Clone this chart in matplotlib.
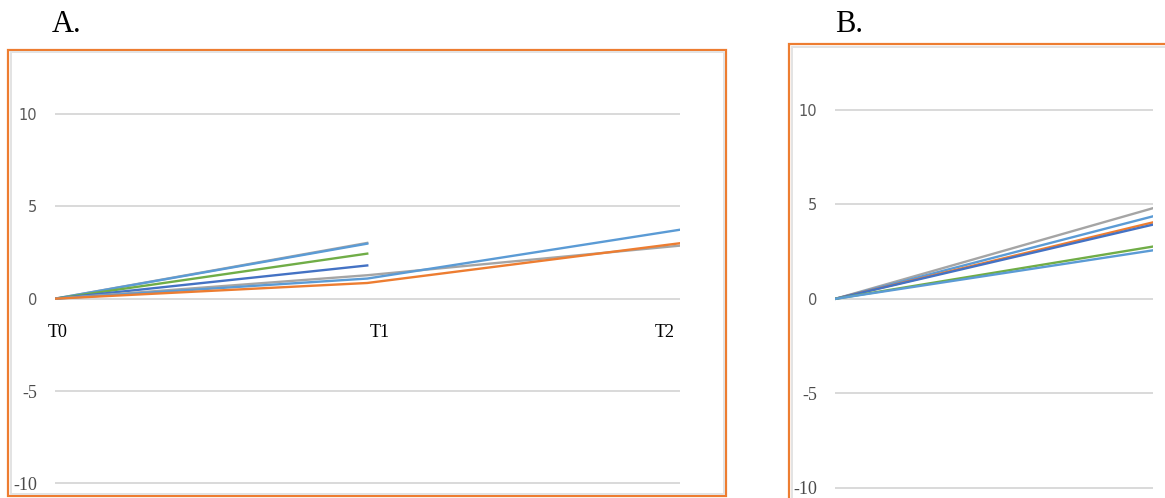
import matplotlib
matplotlib.use("Agg")
import matplotlib.pyplot as plt
from matplotlib.patches import Rectangle
from matplotlib.transforms import offset_copy

W, H = 1165, 498

# panel A data (None = no value at that time point)
timesA = ["T0", "T1", "T2"]
shortGray = [0, 3.02, None]
shortBlue = [0, 2.98, None]
shortGreen = [0, 2.44, None]
shortDarkBlue = [0, 1.80, None]
longGray = [0, 1.27, 2.87]
longBlue = [0, 1.09, 3.73]
longOrange = [0, 0.85, 3.0]

# panel B data
timesB = ["T0", "T1"]
bGray = [0, 4.80]
bBlue = [0, 4.37]
bOrange = [0, 4.05]
bDarkBlue = [0, 3.93]
bGreen = [0, 2.77]
bBlue2 = [0, 2.57]

yTicks = [-10, -5, 0, 5, 10]
yTickLabels = ["-10", "-5", "0", "5", "10"]

BLUE = "#5B9BD5"
DARKBLUE = "#4472C4"
ORANGE = "#ED7D31"
GRAY = "#A5A5A5"
GREEN = "#70AD47"
GRID = "#D9D9D9"


def px(left, top, right, bottom):
    return [left / W, 1 - bottom / H, (right - left) / W, (bottom - top) / H]


def clean(v):
    return [float("nan") if a is None else a for a in v]


def styleAxis(ax, pad):
    ax.set_ylim(-10.5, 13)
    ax.set_yticks(yTicks)
    ax.set_yticklabels(yTickLabels)
    for s in ax.spines.values():
        s.set_visible(False)
    ax.tick_params(axis="y", length=0, pad=pad)
    ax.tick_params(axis="x", length=0, labelbottom=False)
    ax.grid(axis="y", color=GRID, linewidth=1.4)
    ax.set_axisbelow(True)
    ax.patch.set_alpha(0)
    for lbl in ax.get_yticklabels():
        if lbl.get_text().startswith("-"):
            lbl.set_fontfamily("Liberation Serif")
            lbl.set_fontsize(13)
            lbl.set_color("#4a4a4a")
        else:
            lbl.set_fontfamily("DejaVu Sans")
            lbl.set_fontsize(10.5)
            lbl.set_color("#595959")


fig = plt.figure(figsize=(W / 100, H / 100), dpi=100)
fig.patch.set_facecolor("white")

# frames (orange outer, light grey inner)
fig.add_artist(Rectangle((8 / W, 1 - 496 / H), 718 / W, 446 / H, transform=fig.transFigure,
                         fill=False, edgecolor=ORANGE, linewidth=1.6))
fig.add_artist(Rectangle((10.5 / W, 1 - 493.5 / H), 713 / W, 441 / H, transform=fig.transFigure,
                         fill=False, edgecolor="#E3E3E3", linewidth=1.4))
fig.add_artist(Rectangle((789 / W, 1 - 510 / H), 400 / W, 466 / H, transform=fig.transFigure,
                         fill=False, edgecolor=ORANGE, linewidth=1.6))
fig.add_artist(Rectangle((791.5 / W, 1 - 510 / H), 400 / W, 463.5 / H, transform=fig.transFigure,
                         fill=False, edgecolor="#E3E3E3", linewidth=1.4))

# panel A
axA = fig.add_axes(px(55, 58.6, 679.5, 492.6))
x = range(len(timesA))
lw = 1.7
axA.plot(x, clean(shortGray), color=GRAY, lw=lw)
axA.plot(x, clean(shortBlue), color=BLUE, lw=lw)
axA.plot(x, clean(shortGreen), color=GREEN, lw=lw)
axA.plot(x, clean(shortDarkBlue), color=DARKBLUE, lw=lw)
axA.plot(x, clean(longGray), color=GRAY, lw=lw)
axA.plot(x, clean(longBlue), color=BLUE, lw=lw)
axA.plot(x, clean(longOrange), color=ORANGE, lw=lw)
axA.set_xlim(0, len(timesA) - 1)
styleAxis(axA, 13)
# category labels sit a bit below the zero line, nudged like the original
nudges = [3, 13, -15]
for i, t in enumerate(timesA):
    tr = offset_copy(axA.transData, fig=fig, x=nudges[i], y=-34, units="dots")
    axA.text(i, 0, t, transform=tr, ha="center", va="center",
             fontfamily="Liberation Serif", fontsize=13, color="black")

# panel B
axB = fig.add_axes(px(835, 53.4, 1152.7, 497.2))
xb = range(len(timesB))
axB.plot(xb, bGray, color=GRAY, lw=lw)
axB.plot(xb, bBlue, color=BLUE, lw=lw)
axB.plot(xb, bOrange, color=ORANGE, lw=lw)
axB.plot(xb, bDarkBlue, color=DARKBLUE, lw=lw)
axB.plot(xb, bGreen, color=GREEN, lw=lw)
axB.plot(xb, bBlue2, color=BLUE, lw=lw)
axB.set_xlim(0, len(timesB) - 1)
styleAxis(axB, 13)

fig.text(52 / W, 1 - 24 / H, "A.", fontfamily="Liberation Serif", fontsize=22,
         ha="left", va="center")
fig.text(835 / W, 1 - 24 / H, "B.", fontfamily="Liberation Serif", fontsize=22,
         ha="left", va="center")

fig.savefig("out.png", dpi=100)
